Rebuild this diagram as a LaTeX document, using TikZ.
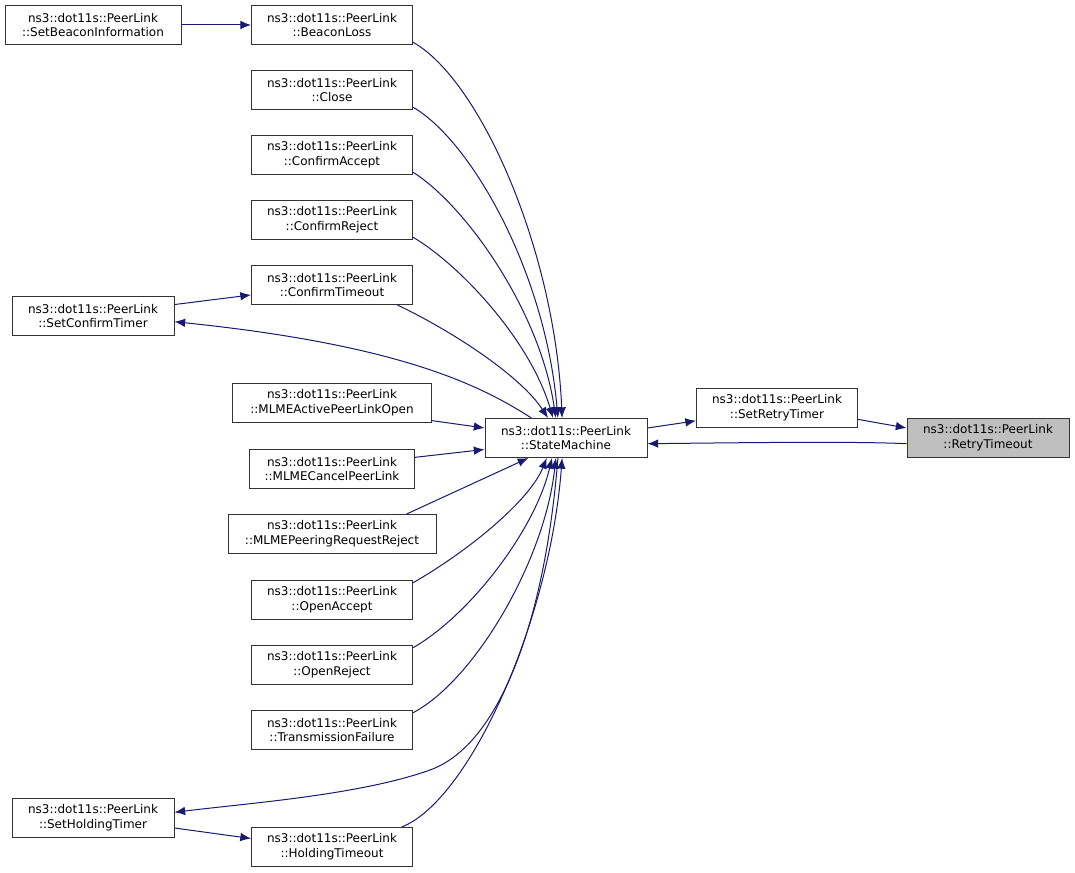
\documentclass[tikz,border=0pt]{standalone}
\usepackage{fontspec}
\setmainfont{DejaVu Sans}
\usetikzlibrary{arrows.meta}
\definecolor{edgeblue}{RGB}{25,25,112}
\definecolor{hilite}{RGB}{191,191,191}
\tikzset{
  fn_/.style   = {shape=rectangle, draw=black!80, line width=0.75pt, align=center, fill=white,
                  minimum width=120.75pt, minimum height=29.25pt, inner sep=0pt,
                  font=\fontsize{9pt}{11.2pt}\selectfont},
  this_/.style = {fn_, fill=hilite},
  call_/.style = {draw=edgeblue, line width=0.75pt, -{Latex[length=8pt,width=6.5pt]}}
}

\begin{document}
\begin{tikzpicture}[x=0.75pt, y=-0.75pt]
  \useasboundingbox (0,0) rectangle (1075,873);
  % callers on the far left
  \node [fn_, minimum width=132pt] (sbi) at (93,25) {ns3::dot11s::PeerLink\\::SetBeaconInformation};
  \node [fn_, minimum width=121.5pt] (sct) at (93,316) {ns3::dot11s::PeerLink\\::SetConfirmTimer};
  \node [fn_, minimum width=121.5pt] (sht) at (93,818) {ns3::dot11s::PeerLink\\::SetHoldingTimer};
  % middle column
  \node [fn_] (bl) at (332,25)  {ns3::dot11s::PeerLink\\::BeaconLoss};
  \node [fn_] (cl) at (332,90)  {ns3::dot11s::PeerLink\\::Close};
  \node [fn_] (ca) at (332,155) {ns3::dot11s::PeerLink\\::ConfirmAccept};
  \node [fn_] (cr) at (332,220) {ns3::dot11s::PeerLink\\::ConfirmReject};
  \node [fn_] (ct) at (332,285) {ns3::dot11s::PeerLink\\::ConfirmTimeout};
  \node [fn_, minimum width=149.25pt] (mla) at (332,403) {ns3::dot11s::PeerLink\\::MLMEActivePeerLinkOpen};
  \node [fn_, minimum width=123.75pt] (mlc) at (332,469) {ns3::dot11s::PeerLink\\::MLMECancelPeerLink};
  \node [fn_, minimum width=156pt] (mlp) at (332,534) {ns3::dot11s::PeerLink\\::MLMEPeeringRequestReject};
  \node [fn_] (oa) at (332,600) {ns3::dot11s::PeerLink\\::OpenAccept};
  \node [fn_] (orj) at (332,665) {ns3::dot11s::PeerLink\\::OpenReject};
  \node [fn_] (tf) at (332,730) {ns3::dot11s::PeerLink\\::TransmissionFailure};
  \node [fn_] (ht) at (332,847) {ns3::dot11s::PeerLink\\::HoldingTimeout};
  % right part
  \node [fn_, minimum width=121.5pt] (sm) at (566,438) {ns3::dot11s::PeerLink\\::StateMachine};
  \node [fn_] (srt) at (777,408) {ns3::dot11s::PeerLink\\::SetRetryTimer};
  \node [this_, minimum width=121.5pt] (rt) at (988,438) {ns3::dot11s::PeerLink\\::RetryTimeout};

  % straight calls
  \draw [call_] (sbi.east) -- (bl.west);
  \draw [call_] (sct.8) -- (ct.187);
  \draw [call_] (sht.-7) -- (ht.174);
  \draw [call_] (mla.-10) -- (sm.173);
  \draw [call_] (mlc.8) -- (sm.188);
  \draw [call_] (mlp.15) -- (sm.208);
  \draw [call_] (sm.7) -- (srt.189);
  \draw [call_] (srt.-8) -- (rt.173);
  % curved calls into the state machine
  \draw [call_] (bl.-12) .. controls (480,80) and (555,250) .. (sm.101);
  \draw [call_] (cl.-12) .. controls (470,140) and (545,270) .. (sm.112);
  \draw [call_] (ca.-12) .. controls (465,205) and (540,310) .. (sm.117);
  \draw [call_] (cr.-12) .. controls (460,265) and (530,340) .. (sm.123);
  \draw [call_] (ct.-17) .. controls (450,330) and (520,375) .. (sm.132);
  \draw [call_] (oa.12) .. controls (470,550) and (530,500) .. (sm.226);
  \draw [call_] (orj.12) .. controls (470,615) and (535,530) .. (sm.235);
  \draw [call_] (tf.12) .. controls (475,680) and (545,560) .. (sm.243);
  \draw [call_] (ht.16) .. controls (470,800) and (550,620) .. (sm.259);
  \draw [call_] (rt.184) .. controls (850,441) and (720,443) .. (sm.-4);
  % state machine back to the timers
  \draw [call_] (sm.150) .. controls (480,385) and (400,345) .. (sct.-4);
  \draw [call_] (sm.248) .. controls (545,620) and (500,745) .. (430,770)
                .. controls (360,795) and (250,803) .. (sht.4);
\end{tikzpicture}
\end{document}
